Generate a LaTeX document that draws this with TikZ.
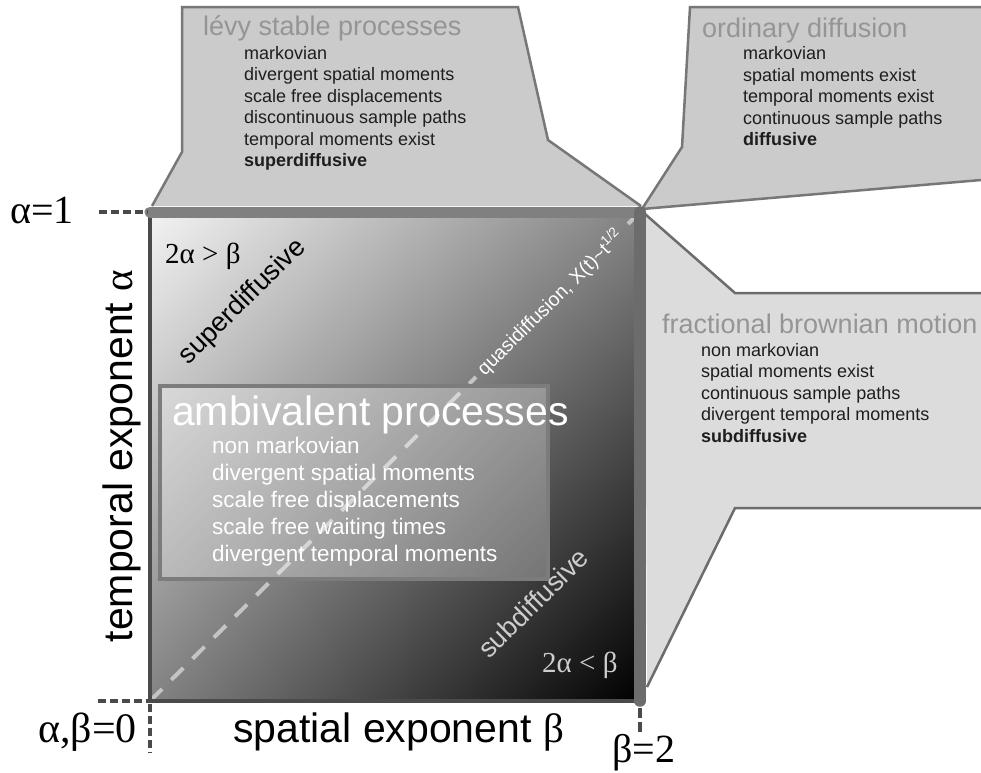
\documentclass[tikz,border=0pt]{standalone}
\usepackage{fontspec}
\setmainfont{Liberation Sans}
\newfontfamily\tmsf{Liberation Serif}
\usetikzlibrary{shadings}
\definecolor{calloutA}{HTML}{CBCBCB}
\definecolor{calloutB}{HTML}{DCDCDC}
\definecolor{edgegray}{HTML}{777777}
\definecolor{titlegray}{HTML}{959595}
\definecolor{itemdark}{HTML}{1E1E1E}
\definecolor{topbar}{HTML}{808080}
\definecolor{rightbar}{HTML}{6C6C6C}
\definecolor{axisdark}{HTML}{4A4A4A}
\definecolor{diagdash}{HTML}{C4C4C4}
\definecolor{sqUL}{HTML}{F3F3F3}
\definecolor{sqMid}{HTML}{838383}
\definecolor{boxedge}{HTML}{7C7C7C}
\definecolor{lightlabel}{HTML}{CDCDCD}
\begin{document}
\begin{tikzpicture}[x=1pt,y=-1pt,
  calloutedge/.style={draw=edgegray, line width=2.5pt, line join=miter},
  ctitle/.style={anchor=base west, inner sep=0pt, text=titlegray, font=\fontsize{27}{30}\selectfont},
  citem/.style={anchor=base west, inner sep=0pt, text=itemdark, font=\fontsize{18}{21}\selectfont},
  atitle/.style={anchor=base west, inner sep=0pt, text=white, font=\fontsize{41}{44}\selectfont},
  aitem/.style={anchor=base west, inner sep=0pt, text=white, font=\fontsize{22.5}{26}\selectfont},
  axisdash/.style={draw=axisdark, line width=4pt, dash pattern=on 8pt off 4pt},
  serlabel/.style={anchor=base west, inner sep=0pt, font=\tmsf\fontsize{40}{42}\selectfont},
  axlabel/.style={inner sep=0pt, font=\fontsize{41}{44}\selectfont},
  ineq/.style={anchor=base west, inner sep=0pt, font=\tmsf\fontsize{29}{32}\selectfont},
  diaglabel/.style={inner sep=0pt, rotate=44.7, font=\fontsize{27}{30}\selectfont}
]
\useasboundingbox (0,0) rectangle (981,772);

% corner coordinates of the square
\coordinate (UL) at (150,212);
\coordinate (UR) at (640,212);
\coordinate (LL) at (150,701);
\coordinate (LR) at (640,701);

% callouts
\fill[calloutA] (152,206) -- (182,152) -- (182,7) -- (518,7) -- (548,140) -- (641,206) -- cycle;
\draw[calloutedge] (152,206) -- (182,152) -- (182,7) -- (518,7) -- (548,140) -- (641,206);

\fill[calloutA] (642,209) -- (682,147) -- (690,7) -- (981,7) -- (981,180) -- cycle;
\draw[calloutedge] (981,180) -- (642,209) -- (682,147) -- (690,7) -- (981,7);

\fill[calloutB] (645,214) -- (735,293) -- (981,293) -- (981,508) -- (735,508) -- (647,687) -- cycle;
\draw[calloutedge, draw=rightbar] (645,214) -- (735,293) -- (981,293);
\draw[calloutedge, draw=rightbar] (981,508) -- (735,508) -- (647,687);

% shaded square
\shade[upper left=sqUL, upper right=sqMid, lower left=sqMid, lower right=black] (UL) rectangle (LR);

% diagonal dashed line
\coordinate (dq) at (476,377);
\coordinate (dr) at (628,224);
\draw[diagdash, line width=4pt, dash pattern=on 17pt off 13pt] (LL) -- (dq);
\draw[diagdash, line width=4pt] (dr) -- (UR);

% ambivalent box
\draw[draw=boxedge, line width=4pt, fill=white, fill opacity=0.3] (160,386) rectangle (548,579);

% borders
\draw[draw=axisdark, line width=4pt] (UL) -- (LL);
\draw[draw=axisdark, line width=4pt] (LL) -- (LR);
\draw[draw=topbar, line width=11pt, line cap=round] (UL) -- (UR);
\draw[draw=rightbar, line width=11.5pt, line cap=round] (UR) -- (LR);

% axis dashes
\coordinate (a1) at (99,212);
\coordinate (a0h) at (98,701);
\coordinate (a0v) at (150,753);
\coordinate (b2a) at (640,708);
\coordinate (b2b) at (640,732);
\draw[axisdash] (a1) -- (148,212);
\draw[axisdash] (a0h) -- (LL);
\draw[axisdash] (150,704) -- (a0v);
\draw[axisdash, dash pattern=on 10pt off 4pt] (b2a) -- (b2b);

% callout texts: levy
\node[ctitle] (levt) at (203,35) {lévy stable processes};
\foreach \txt [count=\i from 0] in {markovian, divergent spatial moments, scale free displacements, discontinuous sample paths, temporal moments exist}
  \node[citem] (lev\i) at (244,{59+21.5*\i}) {\txt};
\node[citem] (lev5) at (244,166.5) {\bfseries superdiffusive};

% ordinary diffusion
\node[ctitle] (odt) at (702,37) {ordinary diffusion};
\foreach \txt [count=\i from 0] in {markovian, spatial moments exist, temporal moments exist, continuous sample paths}
  \node[citem] (od\i) at (743,{59.5+21.5*\i}) {\txt};
\node[citem] (od4) at (743,145.5) {\bfseries diffusive};

% fractional brownian motion
\node[ctitle] (fbt) at (662,333) {fractional brownian motion};
\foreach \txt [count=\i from 0] in {non markovian, spatial moments exist, continuous sample paths, divergent temporal moments}
  \node[citem] (fb\i) at (701,{356+21.5*\i}) {\txt};
\node[citem] (fb4) at (701,442) {\bfseries subdiffusive};

% ambivalent processes
\node[atitle] (amt) at (172,425) {ambivalent processes};
\foreach \txt [count=\i from 0] in {non markovian, divergent spatial moments, scale free displacements, scale free waiting times, divergent temporal moments}
  \node[aitem] (am\i) at (212,{453+27*\i}) {\txt};

% inequalities
\node[ineq, text=black] (gt) at (165,263) {2α > β};
\node[ineq, text=lightlabel] (lt) at (542,672) {2α < β};

% diagonal labels
\node[diaglabel, text=black] (sup) at (243,302) {superdiffusive};
\node[diaglabel, text=lightlabel] (sub) at (533,603) {subdiffusive};
\node[inner sep=0pt, rotate=44.7, anchor=west, text=white, font=\fontsize{19.5}{22}\selectfont] (quasi) at (480,372) {quasidiffusion, X(t)\textasciitilde t\textsuperscript{1/2}};

% axis labels
\node[serlabel] (alpha1) at (10,223) {α=1};
\node[serlabel, font=\tmsf\fontsize{42}{44}\selectfont] (ab0) at (38,742) {α,β=0};
\node[serlabel] (beta2) at (612,762) {β=2};
\node[axlabel, anchor=base west] (spat) at (233,742) {spatial exponent {\tmsf β}};
\node[axlabel, anchor=base, rotate=90] (temp) at (132,456) {temporal exponent {\tmsf α}};
\end{tikzpicture}
\end{document}
